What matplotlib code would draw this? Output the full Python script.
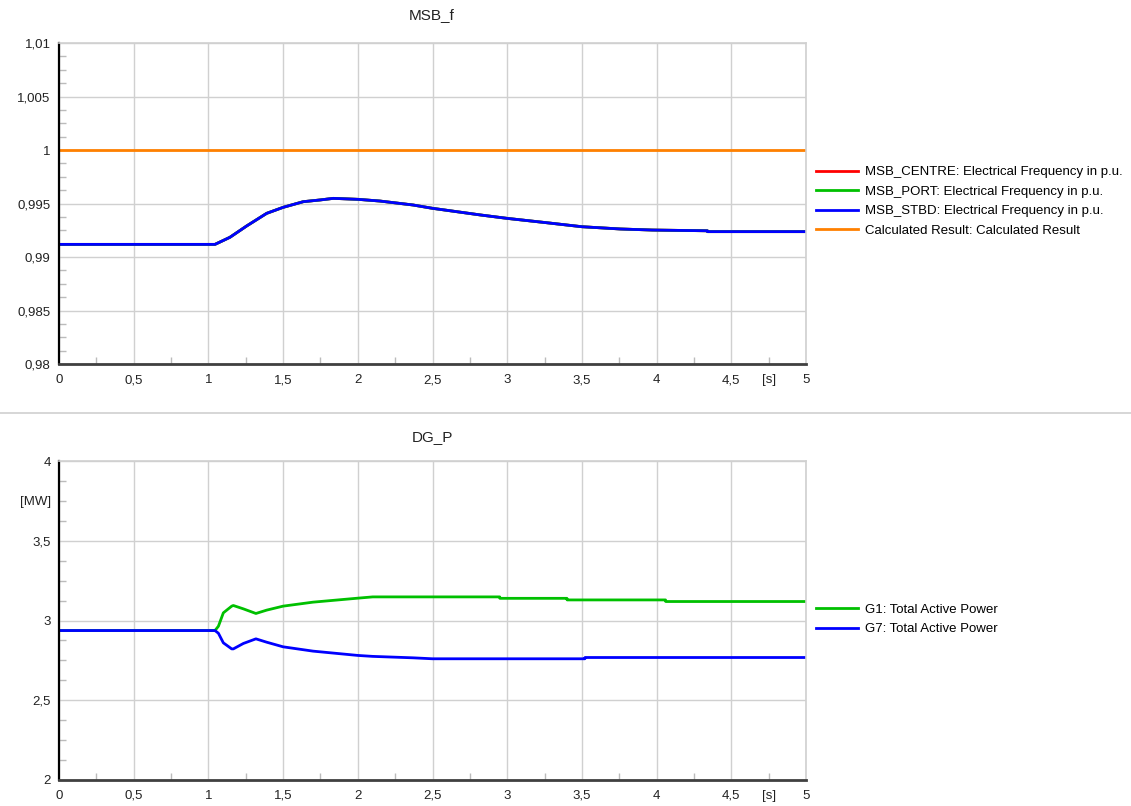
import matplotlib
matplotlib.use("Agg")
import matplotlib.pyplot as plt
from matplotlib.lines import Line2D
from matplotlib.ticker import FuncFormatter, MultipleLocator, NullFormatter
from matplotlib.transforms import ScaledTranslation
import numpy as np

plt.rcParams['font.family'] = ['Liberation Sans', 'DejaVu Sans']

# --- data ---
# frequency of the three switchboards (all overlap, blue on top)
t_f = [0, 1.044, 1.144, 1.256, 1.39, 1.5, 1.635, 1.747, 1.836, 2.0, 2.148, 2.37, 2.5,
       2.82, 3.0, 3.26, 3.5, 3.755, 3.97, 4.34, 4.341, 5.0]
f_msb = [0.99118, 0.99118, 0.99184, 0.99290, 0.99408, 0.99464, 0.99517, 0.99533, 0.99548,
         0.99539, 0.99523, 0.99486, 0.99455, 0.99393, 0.99361, 0.99321, 0.99283, 0.99262,
         0.99252, 0.99245, 0.99237, 0.99237]
t_calc = [0, 5.0]
f_calc = [1.0, 1.0]

# generator power
t_p = [0, 1.044, 1.067, 1.1, 1.156, 1.167, 1.234, 1.318, 1.39, 1.5, 1.70, 2.0, 2.1, 2.37,
       2.5, 2.95, 2.951, 3.4, 3.401, 3.52, 3.521, 4.06, 4.061, 5.0]
p_g1 = [2.937, 2.937, 2.964, 3.048, 3.090, 3.094, 3.073, 3.044, 3.065, 3.090, 3.115, 3.140,
        3.148, 3.148, 3.148, 3.148, 3.139, 3.139, 3.129, 3.129, 3.129, 3.129, 3.119, 3.119]
p_g7 = [2.937, 2.937, 2.920, 2.860, 2.822, 2.822, 2.856, 2.885, 2.864, 2.835, 2.808, 2.781,
        2.775, 2.766, 2.760, 2.760, 2.760, 2.760, 2.760, 2.760, 2.768, 2.768, 2.768, 2.768]

x_ticks = [0, 0.5, 1, 1.5, 2, 2.5, 3, 3.5, 4, 4.5, 4.75, 5]
x_ticklabels = ['0', '0,5', '1', '1,5', '2', '2,5', '3', '3,5', '4', '4,5', '[s]', '5']

freq_labels = ['MSB_CENTRE: Electrical Frequency in p.u.',
               'MSB_PORT: Electrical Frequency in p.u.',
               'MSB_STBD: Electrical Frequency in p.u.',
               'Calculated Result: Calculated Result']
power_labels = ['G1: Total Active Power', 'G7: Total Active Power']

RED, GREEN, BLUE, ORANGE = '#ff0000', '#00c000', '#0000ff', '#ff8000'
GRID = '#d0d0d0'
W, H = 1131, 806

fig = plt.figure(figsize=(W / 100, H / 100), dpi=100)
ax1 = fig.add_axes([59 / W, 1 - 364 / H, (806 - 59) / W, (364 - 43) / H])
ax2 = fig.add_axes([59 / W, 1 - 780 / H, (806 - 59) / W, (780 - 461) / H])


def comma(v, pos):
    return ('%g' % round(v, 6)).replace('.', ',')


def style(ax, ymin, ymax, ystep, ylab=None):
    ax.set_xlim(0, 5)
    ax.set_ylim(ymin, ymax)
    ax.xaxis.set_major_locator(MultipleLocator(0.5))
    ax.yaxis.set_major_locator(MultipleLocator(ystep))
    ax.xaxis.set_major_formatter(NullFormatter())
    ax.yaxis.set_major_formatter(FuncFormatter(comma))
    ax.set_xticks(np.arange(0.25, 5, 0.5), minor=True)
    ax.xaxis.set_minor_formatter(NullFormatter())
    ym = np.arange(ymin + ystep / 4, ymax, ystep / 4)
    ym = [v for v in ym if abs(round(v / ystep) * ystep - v) > ystep / 10]
    ax.set_yticks(ym, [ylab if (ylab and abs(v - (ymax - ystep / 2)) < 1e-9) else '' for v in ym],
                  minor=True)
    ax.tick_params(which='major', length=0, labelsize=9.5, colors='#222222')
    ax.tick_params(which='minor', direction='in', length=5, width=1, color='#bbbbbb',
                   labelsize=9.5, labelcolor='#222222')
    ax.tick_params(axis='y', which='both', pad=6)
    # x labels drawn on a common baseline below the axis
    tr = ax.get_xaxis_transform() + ScaledTranslation(0, -19 / 100, fig.dpi_scale_trans)
    for v, s in zip(x_ticks, x_ticklabels):
        ax.text(v, 0, s, transform=tr, ha='center', va='baseline', fontsize=9.5,
                color='#222222', clip_on=False)
    ax.grid(True, which='major', color=GRID, lw=1)
    ax.set_axisbelow(True)
    ax.spines['left'].set_color('black')
    ax.spines['left'].set_linewidth(1.6)
    ax.spines['bottom'].set_color('#404040')
    ax.spines['bottom'].set_linewidth(2)
    for s in ('top', 'right'):
        ax.spines[s].set_color(GRID)
        ax.spines[s].set_linewidth(1.2)


style(ax1, 0.98, 1.01, 0.005)
style(ax2, 2.0, 4.0, 0.5, ylab='[MW]')

lw = 2
ax1.plot(t_f, f_msb, color=RED, lw=lw, label=freq_labels[0])
ax1.plot(t_f, f_msb, color=GREEN, lw=lw, label=freq_labels[1])
ax1.plot(t_f, f_msb, color=BLUE, lw=lw, label=freq_labels[2])
ax1.plot(t_calc, f_calc, color=ORANGE, lw=lw, label=freq_labels[3])

ax2.plot(t_p, p_g1, color=GREEN, lw=lw, label=power_labels[0])
ax2.plot(t_p, p_g7, color=BLUE, lw=lw, label=power_labels[1])

for ax, yc in ((ax1, 201.5), (ax2, 619.5)):
    ax.legend(loc='center left', bbox_to_anchor=(816 / W, 1 - yc / H),
              bbox_transform=fig.transFigure, frameon=False, fontsize=9.5,
              handlelength=3.2, handletextpad=0.55, labelspacing=0.56,
              borderpad=0, borderaxespad=0)

fig.text(432 / W, 1 - 15 / H, 'MSB_f', ha='center', va='center', fontsize=11, color='#222222')
fig.text(432 / W, 1 - 437 / H, 'DG_P', ha='center', va='center', fontsize=11, color='#222222')
fig.add_artist(Line2D([0, 1], [1 - 413 / H, 1 - 413 / H], transform=fig.transFigure,
                      color=GRID, lw=1.2))

fig.savefig('out.png', dpi=100)
